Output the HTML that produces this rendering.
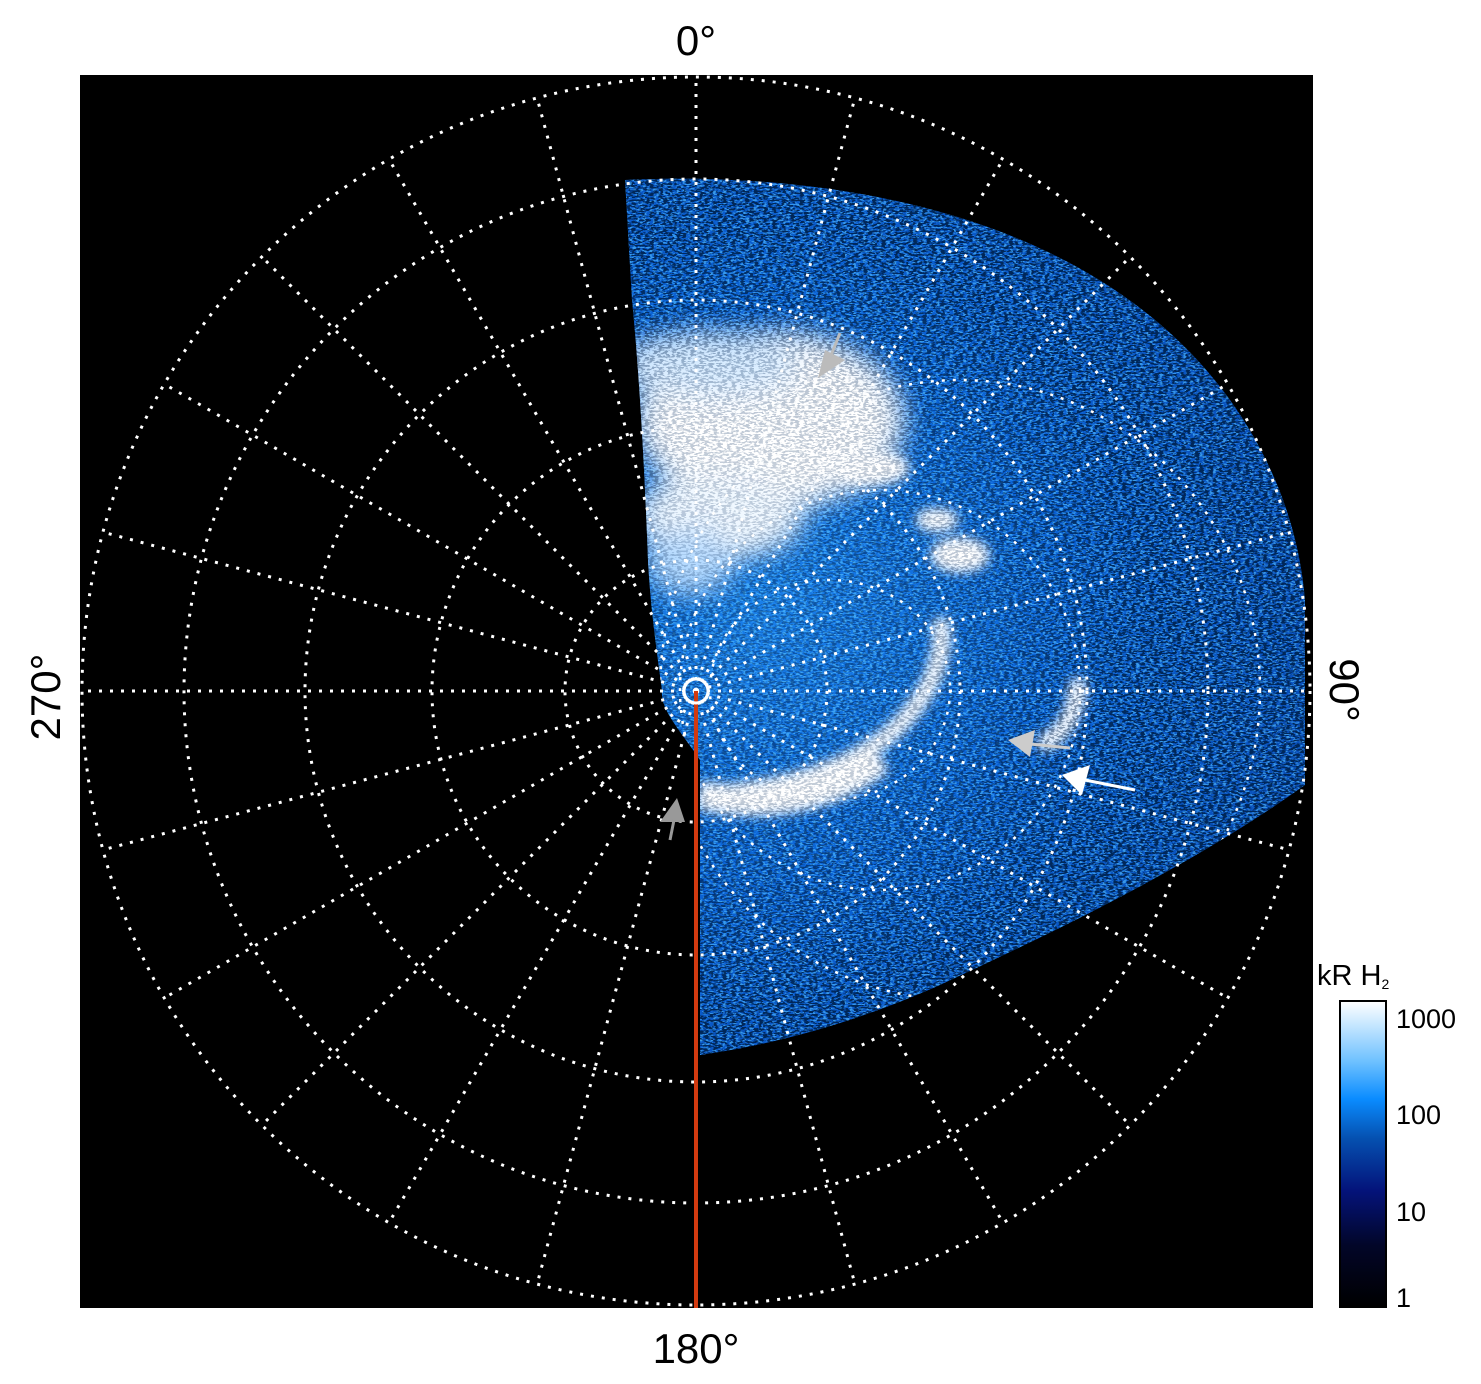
<!DOCTYPE html>
<html><head><meta charset="utf-8"><style>
html,body{margin:0;padding:0;background:#fff;}
svg{display:block;}
text{font-family:"Liberation Sans",sans-serif;fill:#000;}
</style></head><body>
<svg width="1481" height="1384" viewBox="0 0 1481 1384" xmlns="http://www.w3.org/2000/svg">
<defs>
<clipPath id="dc"><path d="M625,180 C850,170 1100,220 1230,400 C1280,470 1300,540 1305,600 L1305,785 C1200,860 1080,920 940,985 C850,1025 770,1045 700,1055 L700,760 C680,730 660,710 662,690 C655,640 650,600 648,560 C645,480 640,380 632,300 Z"/></clipPath>
<filter id="noise" x="0" y="0" width="100%" height="100%">
<feTurbulence type="fractalNoise" baseFrequency="0.22 0.55" numOctaves="2" seed="4" result="t"/>
<feColorMatrix in="t" type="matrix" values="0 0 0 0 0  0 0 0 0 0.02  0 0 0 0 0.1  0 0 0 -14 7.3"/>
</filter>
<filter id="noise2" x="0" y="0" width="100%" height="100%">
<feTurbulence type="fractalNoise" baseFrequency="0.3 0.7" numOctaves="1" seed="9" result="t"/>
<feColorMatrix in="t" type="matrix" values="0 0 0 0 0.1  0 0 0 0 0.55  0 0 0 0 1  0 0 0 -12 6"/>
</filter>
<filter id="b6"><feGaussianBlur stdDeviation="6"/></filter>
<filter id="b14"><feGaussianBlur stdDeviation="14"/></filter>
<radialGradient id="rg" cx="760" cy="600" r="650" gradientUnits="userSpaceOnUse">
<stop offset="0" stop-color="#1a80ea"/><stop offset="0.45" stop-color="#0a62d6"/><stop offset="1" stop-color="#0848b0"/>
</radialGradient>
<radialGradient id="mg" cx="760" cy="620" r="600" gradientUnits="userSpaceOnUse">
<stop offset="0" stop-color="#666"/><stop offset="0.4" stop-color="#aaa"/><stop offset="0.65" stop-color="#fff"/>
</radialGradient>
<mask id="nm"><rect x="600" y="150" width="720" height="920" fill="url(#mg)"/></mask>
<linearGradient id="cb" x1="0" y1="0" x2="0" y2="1">
<stop offset="0" stop-color="#ffffff"/><stop offset="0.2" stop-color="#6cc0ff"/><stop offset="0.32" stop-color="#0a8cff"/><stop offset="0.45" stop-color="#0550b0"/><stop offset="0.62" stop-color="#04137a"/><stop offset="0.8" stop-color="#020628"/><stop offset="1" stop-color="#000"/>
</linearGradient>
<g id="bright">
<g filter="url(#b14)">
<ellipse cx="770" cy="420" rx="130" ry="85" fill="#fff"/>
<ellipse cx="720" cy="515" rx="80" ry="40" fill="#f0f8ff"/>
<ellipse cx="710" cy="365" rx="90" ry="30" fill="#d8ecff"/>
<ellipse cx="690" cy="560" rx="40" ry="30" fill="#b8dcff"/>
</g>
<g filter="url(#b6)">
<ellipse cx="870" cy="468" rx="38" ry="16" fill="#fff"/>
<ellipse cx="937" cy="520" rx="20" ry="10" fill="#fff"/>
<ellipse cx="960" cy="555" rx="28" ry="16" fill="#fff"/>
<path d="M700,795 C800,790 880,760 920,700 C940,670 945,640 940,620" stroke="#fff" stroke-width="14" fill="none"/>
<path d="M700,795 C780,812 840,790 880,760" stroke="#fff" stroke-width="26" fill="none"/>
<path d="M1040,745 C1065,735 1078,710 1078,680" stroke="#fff" stroke-width="14" fill="none"/>
</g>
</g>
</defs>
<rect x="80" y="75" width="1233" height="1233" fill="#000"/>
<g clip-path="url(#dc)">
<rect x="600" y="150" width="720" height="920" fill="url(#rg)"/>
<rect x="600" y="150" width="720" height="920" filter="url(#noise2)" opacity="0.6"/>
<use href="#bright"/>
<rect x="600" y="150" width="720" height="920" filter="url(#noise)" mask="url(#nm)"/>
<use href="#bright" opacity="0.6"/>
</g>
<g fill="none" stroke="#fff" stroke-width="3" stroke-dasharray="3 8">
<circle cx="696" cy="691" r="614"/>
<circle cx="696" cy="691" r="512"/>
<circle cx="696" cy="691" r="391"/>
<circle cx="696" cy="691" r="264"/>
<circle cx="696" cy="691" r="131"/>
<g transform="translate(696,691)">
<line x1="0" y1="0" x2="0" y2="-614"/>
<line x1="0" y1="0" x2="0" y2="-614" transform="rotate(15)"/>
<line x1="0" y1="0" x2="0" y2="-614" transform="rotate(30)"/>
<line x1="0" y1="0" x2="0" y2="-614" transform="rotate(45)"/>
<line x1="0" y1="0" x2="0" y2="-614" transform="rotate(60)"/>
<line x1="0" y1="0" x2="0" y2="-614" transform="rotate(75)"/>
<line x1="0" y1="0" x2="0" y2="-614" transform="rotate(90)"/>
<line x1="0" y1="0" x2="0" y2="-614" transform="rotate(105)"/>
<line x1="0" y1="0" x2="0" y2="-614" transform="rotate(120)"/>
<line x1="0" y1="0" x2="0" y2="-614" transform="rotate(135)"/>
<line x1="0" y1="0" x2="0" y2="-614" transform="rotate(150)"/>
<line x1="0" y1="0" x2="0" y2="-614" transform="rotate(165)"/>
<line x1="0" y1="0" x2="0" y2="-614" transform="rotate(180)"/>
<line x1="0" y1="0" x2="0" y2="-614" transform="rotate(195)"/>
<line x1="0" y1="0" x2="0" y2="-614" transform="rotate(210)"/>
<line x1="0" y1="0" x2="0" y2="-614" transform="rotate(225)"/>
<line x1="0" y1="0" x2="0" y2="-614" transform="rotate(240)"/>
<line x1="0" y1="0" x2="0" y2="-614" transform="rotate(255)"/>
<line x1="0" y1="0" x2="0" y2="-614" transform="rotate(270)"/>
<line x1="0" y1="0" x2="0" y2="-614" transform="rotate(285)"/>
<line x1="0" y1="0" x2="0" y2="-614" transform="rotate(300)"/>
<line x1="0" y1="0" x2="0" y2="-614" transform="rotate(315)"/>
<line x1="0" y1="0" x2="0" y2="-614" transform="rotate(330)"/>
<line x1="0" y1="0" x2="0" y2="-614" transform="rotate(345)"/>
</g>
<g clip-path="url(#dc)" stroke-width="2.5">
<ellipse cx="830" cy="690" rx="120" ry="110"/>
<ellipse cx="880" cy="690" rx="200" ry="200"/>
<ellipse cx="960" cy="690" rx="300" ry="310"/>
</g>
</g>
<line x1="696" y1="691" x2="696" y2="1308" stroke="#d23a10" stroke-width="4"/>
<circle cx="696" cy="691" r="12" fill="none" stroke="#fff" stroke-width="3"/>
<polygon points="818,378 845,360 825,350" fill="#bbb"/>
<line x1="840" y1="333" x2="830" y2="358" stroke="#bbb" stroke-width="3"/>
<polygon points="1008,740 1035,730 1030,757" fill="#ccc"/>
<line x1="1030" y1="744" x2="1070" y2="748" stroke="#ccc" stroke-width="3"/>
<polygon points="1062,775 1090,765 1082,795" fill="#fff"/>
<line x1="1085" y1="780" x2="1135" y2="790" stroke="#fff" stroke-width="3"/>
<polygon points="660,822 685,822 677,798" fill="#999"/>
<line x1="670" y1="840" x2="675" y2="815" stroke="#999" stroke-width="3"/>
<text x="696" y="55" font-size="42" text-anchor="middle">0°</text>
<text x="696" y="1363" font-size="42" text-anchor="middle">180°</text>
<text transform="translate(60,697) rotate(-90)" font-size="42" text-anchor="middle">270°</text>
<text transform="translate(1330,690) rotate(90)" font-size="42" text-anchor="middle">90°</text>
<text x="1317" y="985" font-size="29">kR H<tspan font-size="14" dy="4">2</tspan></text>
<rect x="1340" y="1001" width="46" height="306" fill="url(#cb)" stroke="#000" stroke-width="2"/>
<text x="1396" y="1028" font-size="27">1000</text>
<text x="1396" y="1124" font-size="27">100</text>
<text x="1396" y="1221" font-size="27">10</text>
<text x="1396" y="1307" font-size="27">1</text>
</svg>
</body></html>
